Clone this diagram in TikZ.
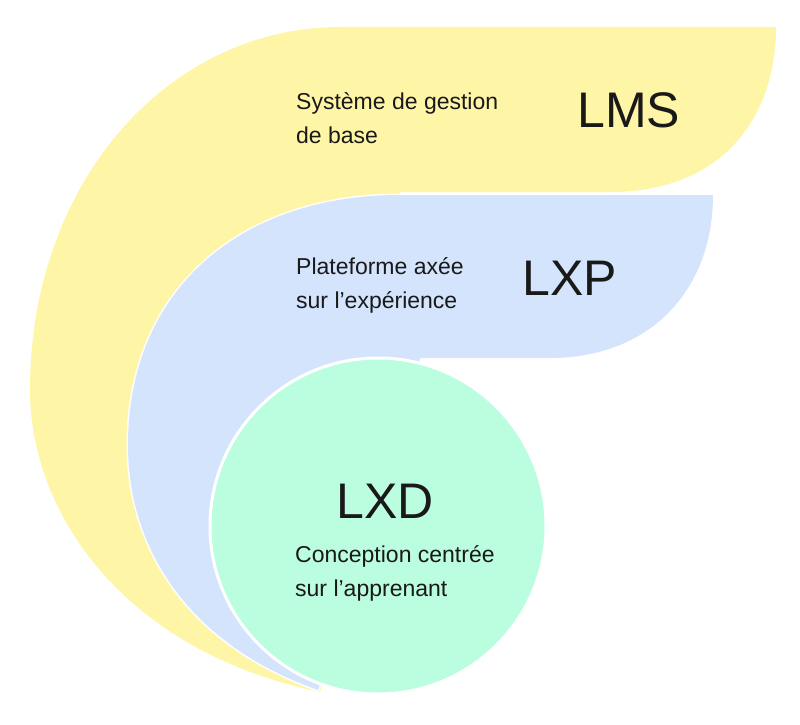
\documentclass[tikz,border=0pt]{standalone}
\usepackage{fontspec}
\setmainfont{Liberation Sans}
\definecolor{yel}{HTML}{FFF5A6}
\definecolor{blu}{HTML}{D3E4FC}
\definecolor{grn}{HTML}{BBFDDF}
\begin{document}
\begin{tikzpicture}[x={(1pt,0)},y={(0,-1pt)},
  small/.style={anchor=west,align=left,inner sep=0pt,font=\fontsize{23}{34}\selectfont,text=black!90},
  big/.style={anchor=west,inner sep=0pt,font=\fontsize{50}{50}\selectfont,text=black!90},
  shapeline/.style={draw=white,line width=3pt}]
\useasboundingbox (0,0) rectangle (800,725);
\fill[yel] (320,692) .. controls (120,650) and (30,510) .. (30,390) .. controls (30,180) and (170,27) .. (340,27) -- (776,27) .. controls (776,120) and (720,192) .. (610,192) -- (400,192) -- (378,526) -- cycle;
\filldraw[blu,shapeline] (318,690) .. controls (190,645) and (128,550) .. (128,445) .. controls (128,290) and (240,195) .. (400,195) -- (713,195) .. controls (713,290) and (650,358) .. (550,358) -- (420,358) -- (378,526) -- cycle;
\fill[blu] (318,690) .. controls (190,645) and (128,550) .. (128,445) .. controls (128,290) and (240,195) .. (400,195) -- (713,195) .. controls (713,290) and (650,358) .. (550,358) -- (420,358) -- (378,526) -- cycle;
\filldraw[fill=grn,shapeline] (378,526) circle[radius=168];
\node[small] (lmsd) at (296,118) {Système de gestion\\de base};
\node[big] (lms) at (577,110) {LMS};
\node[small] (lxpd) at (296,285) {Plateforme axée\\sur l’expérience};
\node[big] (lxp) at (522,278) {LXP};
\node[big] (lxd) at (336,501) {LXD};
\node[small] (lxdd) at (295,573) {Conception centrée\\sur l’apprenant};
\end{tikzpicture}
\end{document}
